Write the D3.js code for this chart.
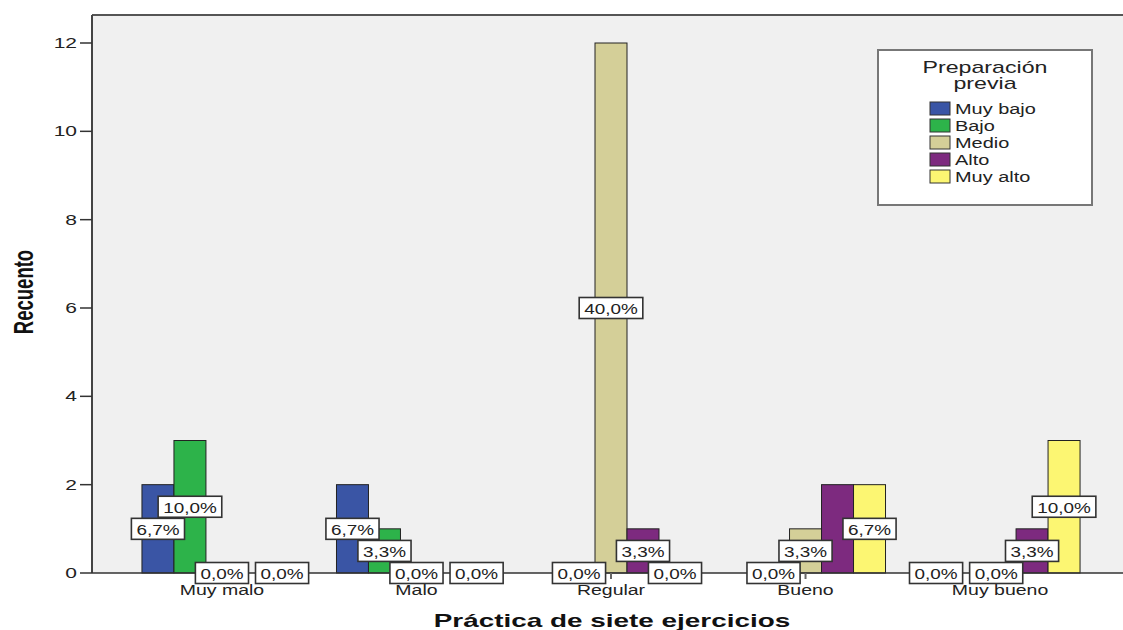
<!DOCTYPE html>
<html>
<head>
<meta charset="utf-8">
<script src="https://cdn.jsdelivr.net/npm/d3@7"></script>
<style>
  html, body { margin: 0; padding: 0; background: #fff; }
  svg { display: block; font-family: "Liberation Sans", Arial, sans-serif; }
</style>
</head>
<body>
<svg id="chart" width="1123" height="630"></svg>
<script>
// Práctica de siete ejercicios × Preparación previa (recuento, N = 30)
const categories = ["Muy malo", "Malo", "Regular", "Bueno", "Muy bueno"];
const series = ["Muy bajo", "Bajo", "Medio", "Alto", "Muy alto"];
// counts per series across categories; null = cell not shown
const muyBajo = [2, 2, null, null, 0];
const bajo    = [3, 1, 0, 0, 0];
const medio   = [0, 0, 12, 1, null];
const alto    = [0, 0, 1, 2, 1];
const muyAlto = [null, null, 0, 2, 3];
const seriesValues = [muyBajo, bajo, medio, alto, muyAlto];
const seriesColors = ["#3a55a5", "#2db34a", "#d4cf98", "#7d2a7f", "#fcf672"];
const yTicks = [0, 2, 4, 6, 8, 10, 12];
const total = 30;

const xTitle = "Práctica de siete ejercicios";
const yTitle = "Recuento";
const legendTitle = ["Preparación", "previa"];

const svg = d3.select("#chart");
const plot = { left: 92, top: 15, right: 1130, bottom: 573 };

const y = d3.scaleLinear()
  .domain([0, 12 * (plot.bottom - plot.top) / (plot.bottom - 43)])
  .range([plot.bottom, plot.top]);

const x = d3.scaleBand().domain(categories)
  .range([plot.left, plot.right]).paddingInner(0).paddingOuter(0.168);
const xs = d3.scaleBand().domain(series)
  .range([0, x.bandwidth()]).paddingInner(0).paddingOuter(0.54);
const color = d3.scaleOrdinal().domain(series).range(seriesColors);

// horizontally widened text, as the chart's renderer draws it
function placeText(sel, px, py, sx) {
  sel.attr("transform", `translate(${px},${py}) scale(${sx},1)`);
  return sel;
}

// plot background
svg.append("rect")
  .attr("x", plot.left).attr("y", plot.top)
  .attr("width", plot.right - plot.left).attr("height", plot.bottom - plot.top)
  .attr("fill", "#f0f0f0");

// frame top
svg.append("line")
  .attr("x1", plot.left).attr("x2", plot.right)
  .attr("y1", plot.top).attr("y2", plot.top)
  .attr("stroke", "#555").attr("stroke-width", 2);

// y axis
const yAxis = svg.append("g");
yAxis.append("line")
  .attr("x1", plot.left).attr("x2", plot.left)
  .attr("y1", plot.top).attr("y2", plot.bottom)
  .attr("stroke", "#444").attr("stroke-width", 2);
yTicks.forEach(t => {
  yAxis.append("line")
    .attr("x1", plot.left - 12).attr("x2", plot.left)
    .attr("y1", y(t)).attr("y2", y(t))
    .attr("stroke", "#333").attr("stroke-width", 1.5);
  placeText(yAxis.append("text"), plot.left - 15, y(t) + 5, 1.5)
    .attr("text-anchor", "end").attr("font-size", 14).attr("fill", "#222")
    .text(t);
});

// bars
const cells = [];
categories.forEach((c, ci) => {
  series.forEach((s, si) => {
    const v = seriesValues[si][ci];
    if (v !== null) cells.push({ cat: c, ser: s, value: v });
  });
});

svg.append("g").selectAll("rect")
  .data(cells.filter(d => d.value > 0))
  .join("rect")
  .attr("x", d => x(d.cat) + xs(d.ser))
  .attr("y", d => y(d.value))
  .attr("width", xs.bandwidth())
  .attr("height", d => y(0) - y(d.value))
  .attr("fill", d => color(d.ser))
  .attr("stroke", "#222").attr("stroke-width", 1);

// baseline and category ticks
svg.append("line")
  .attr("x1", plot.left).attr("x2", plot.right)
  .attr("y1", y(0)).attr("y2", y(0))
  .attr("stroke", "#333").attr("stroke-width", 1.5);

const xAxis = svg.append("g");
categories.forEach(c => {
  const cx = x(c) + x.bandwidth() / 2;
  xAxis.append("line")
    .attr("x1", cx).attr("x2", cx).attr("y1", y(0)).attr("y2", y(0) + 6)
    .attr("stroke", "#666").attr("stroke-width", 2);
  placeText(xAxis.append("text"), cx, 595, 1.3)
    .attr("text-anchor", "middle").attr("font-size", 15).attr("fill", "#222")
    .text(c);
});

// percentage labels with simple collision handling
const fmt = v => d3.format(".1f")(v).replace(".", ",") + "%";
const labelLayer = svg.append("g");
const lblSx = 1.22, lblPad = 5, lblH = 21, lblGap = 7, lblSize = 15.5;
categories.forEach(c => {
  const placed = [];
  cells.filter(d => d.cat === c).forEach(d => {
    const txt = fmt(d.value / total * 100);
    const g = labelLayer.append("g");
    const t = g.append("text")
      .attr("text-anchor", "middle").attr("font-size", lblSize).attr("fill", "#222")
      .text(txt);
    const w = t.node().getComputedTextLength() * lblSx + 2 * lblPad;
    const lab = {
      g, t, w,
      cx: x(c) + xs(d.ser) + xs.bandwidth() / 2,
      cy: y(d.value / 2),
      zero: d.value === 0
    };
    const hits = (a, b) => Math.abs(a.cx - b.cx) < (a.w + b.w) / 2 &&
                           Math.abs(a.cy - b.cy) < lblH;
    for (let i = 0; i < placed.length; i++) {
      const p = placed[i];
      if (!hits(lab, p)) continue;
      if (lab.zero) {
        lab.cx = p.cx + p.w / 2 + lblGap + lab.w / 2;
      } else {
        p.g.remove();
        placed.splice(i, 1);
        i--;
      }
    }
    placed.push(lab);
  });
  placed.forEach(l => {
    l.g.insert("rect", "text")
      .attr("x", l.cx - l.w / 2).attr("y", l.cy - lblH / 2)
      .attr("width", l.w).attr("height", lblH)
      .attr("fill", "#fff").attr("stroke", "#333").attr("stroke-width", 1.6);
    placeText(l.t, l.cx, l.cy + 6, lblSx);
  });
});

// axis titles
placeText(svg.append("text"), 612, 627, 1.55)
  .attr("text-anchor", "middle").attr("font-size", 18).attr("font-weight", "bold")
  .attr("fill", "#111").text(xTitle);

svg.append("text")
  .attr("transform", "translate(33,292) scale(1.45,1) rotate(-90)")
  .attr("text-anchor", "middle").attr("font-size", 18.5).attr("font-weight", "bold")
  .attr("fill", "#111").text(yTitle);

// legend
const lg = svg.append("g");
lg.append("rect")
  .attr("x", 878).attr("y", 50).attr("width", 214).attr("height", 155)
  .attr("fill", "#fff").attr("stroke", "#777").attr("stroke-width", 2);
legendTitle.forEach((line, i) => {
  placeText(lg.append("text"), 985, 73 + i * 16, 1.45)
    .attr("text-anchor", "middle").attr("font-size", 16).attr("fill", "#222")
    .text(line);
});
series.forEach((s, i) => {
  lg.append("rect")
    .attr("x", 930).attr("y", 102 + i * 17).attr("width", 20).attr("height", 13)
    .attr("fill", color(s)).attr("stroke", "#333").attr("stroke-width", 1);
  placeText(lg.append("text"), 955, 114 + i * 17, 1.33)
    .attr("font-size", 15).attr("fill", "#222").text(s);
});
</script>
</body>
</html>
